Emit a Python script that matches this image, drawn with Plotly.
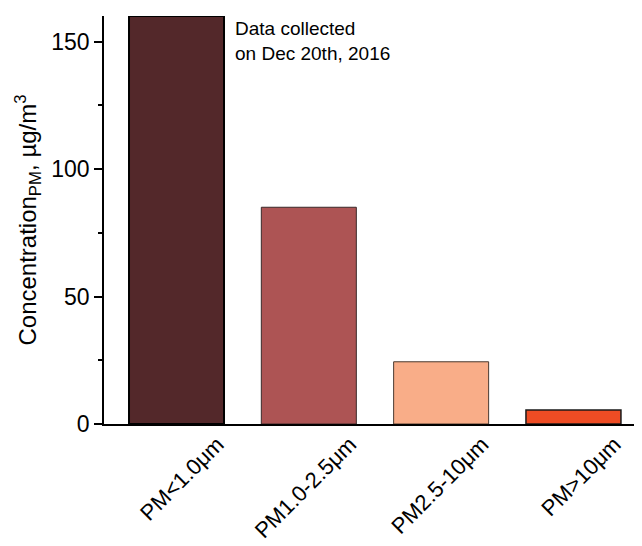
import plotly.graph_objects as go

categories = ["PM<1.0μm", "PM1.0-2.5μm", "PM2.5-10μm", "PM>10μm"]
values = [160, 85, 24.4, 5.5]
colors = ["#53282A", "#AD5454", "#F9AD88", "#EE4C24"]
line_colors = ["#000000", "#3A2A2A", "#4A3A30", "#1A1A1A"]
line_widths = [2, 1, 1, 1.5]
note = "Data collected<br>on Dec 20th, 2016"

font_family = "Liberation Sans, Arial, sans-serif"

fig = go.Figure(
    go.Bar(
        x=categories,
        y=values,
        marker=dict(color=colors, line=dict(color=line_colors, width=line_widths)),
    )
)

fig.update_layout(
    width=634,
    height=538,
    margin=dict(l=96, r=0, t=8, b=122),
    paper_bgcolor="white",
    plot_bgcolor="white",
    bargap=0.282,
    showlegend=False,
    font=dict(family=font_family, color="black"),
)

fig.update_xaxes(
    type="category",
    range=[-0.548, 3.518],
    automargin=False,
    showline=True,
    linecolor="black",
    linewidth=1.5,
    ticks="",
    tickangle=-45,
    tickfont=dict(size=22, family=font_family),
    ticklabelshift=41,
    ticklabelstandoff=-3,
    showgrid=False,
    zeroline=False,
)

fig.update_yaxes(
    range=[0, 160],
    automargin=False,
    tickvals=[0, 50, 100, 150],
    showline=True,
    linecolor="black",
    linewidth=1.5,
    ticks="outside",
    ticklen=8,
    tickwidth=1.5,
    tickcolor="black",
    minor=dict(tickvals=[25, 75, 125], ticks="outside", ticklen=4, tickwidth=1.5, tickcolor="black"),
    tickfont=dict(size=23, family=font_family),
    showgrid=False,
    zeroline=False,
    title=dict(
        text="Concentration<sub>PM</sub>, µg/m<sup>3</sup>",
        font=dict(size=24, family=font_family),
        standoff=8,
    ),
)

fig.add_annotation(
    text=note,
    x=0.240, y=1.0,
    xref="paper", yref="paper",
    xanchor="left", yanchor="top",
    align="left",
    showarrow=False,
    font=dict(size=19, family=font_family, color="black"),
)

fig.write_html("out.html")
